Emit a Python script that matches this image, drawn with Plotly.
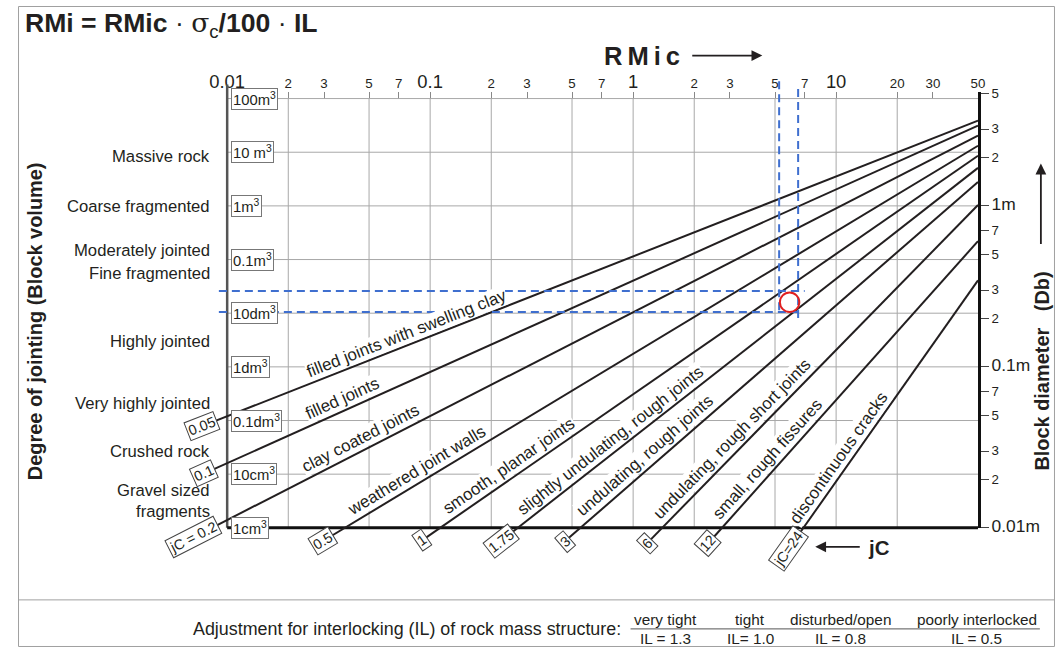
import math
import plotly.graph_objects as go

# ---------------- data ----------------
rmic_tick_vals = [0.01, 0.02, 0.03, 0.05, 0.07, 0.1, 0.2, 0.3, 0.5, 0.7, 1, 2, 3, 5, 7, 10, 20, 30, 50]
rmic_tick_text = ["0.01", "2", "3", "5", "7", "0.1", "2", "3", "5", "7", "1", "2", "3", "5", "7", "10", "20", "30", "50"]
rmic_major = ["0.01", "0.1", "1", "10"]
rmic_grid = [0.02, 0.05, 0.1, 0.2, 0.5, 1, 2, 5, 10, 20]

vb_vals = [1e-6, 1e-5, 1e-4, 1e-3, 1e-2, 1e-1, 1, 10, 100]
vb_text = ["1cm<sup>3</sup>", "10cm<sup>3</sup>", "0.1dm<sup>3</sup>", "1dm<sup>3</sup>", "10dm<sup>3</sup>",
           "0.1m<sup>3</sup>", "1m<sup>3</sup>", "10 m<sup>3</sup>", "100m<sup>3</sup>"]

db_tick_vals = [0.01, 0.02, 0.03, 0.05, 0.07, 0.1, 0.2, 0.3, 0.5, 0.7, 1, 2, 3, 5]
db_tick_text = ["0.01m", "2", "3", "5", "7", "0.1m", "2", "3", "5", "7", "1m", "2", "3", "5"]
db_major = ["0.01m", "0.1m", "1m"]

jointing_classes = ["Massive rock", "Coarse fragmented", "Moderately jointed", "Fine fragmented",
                    "Highly jointed", "Very highly jointed", "Crushed rock", "Gravel sized", "fragments"]

jc_values = [0.05, 0.1, 0.2, 0.5, 1, 1.75, 3, 6, 12, 24]
jc_box_text = ["0.05", "0.1", "jC = 0.2", "0.5", "1", "1.75", "3", "6", "12", "jC=24"]
joint_names = ["filled joints with swelling clay", "filled joints", "clay coated joints",
               "weathered joint walls", "smooth, planar joints", "slightly undulating, rough joints",
               "undulating, rough joints", "undulating, rough short joints", "small, rough fissures",
               "discontinuous cracks"]
# where each jC line enters the frame (left or bottom edge) and where it leaves (RMic = 50)
start_rmic = [0.01, 0.01, 0.01, 0.038, 0.112, 0.27, 0.55, 1.39, 2.74, 6.9]
start_vb = [1.2e-4, 1.6e-5, 1.4e-6, 1e-6, 1e-6, 1e-6, 1e-6, 1e-6, 1e-6, 1e-6]
end_rmic = [50, 50, 50, 50, 50, 50, 50, 50, 50, 50]
end_vb = [38.8, 31.3, 20.3, 13.2, 8.6, 5.1, 2.8, 1.04, 0.22, 0.041]

# worked example (blue dashed construction lines, red circle)
dash_h_vb = [0.026, 0.0105]
dash_h_rmic_from = [0.0091, 0.0091]
dash_h_rmic_to = [7.0, 6.5]
dash_v_rmic = [5.24, 6.5]
dash_v_vb_from = [210, 150]
dash_v_vb_to = [0.0105, 0.0077]
example_rmic = [5.9]
example_vb = [0.016]

il_headers = ["very tight", "tight", "disturbed/open", "poorly interlocked"]
il_values = ["IL = 1.3", "IL= 1.0", "IL = 0.8", "IL = 0.5"]

# ---------------- layout geometry ----------------
W, H = 1062, 655
# the page is photographed slightly reduced and shifted: target pixel r -> figure pixel (r - O) / S
S, OX, OY = 0.978, 16.5, 7.5
X0, X1 = 226, 978          # frame left / right (target pixels)
Y100, YB = 100, 529        # 100 m3 line / 1 cm3 line
YT = 93                    # top of the axis box
PX = (X1 - X0) / (math.log10(50) + 2)
PY = (YB - Y100) / 8.0


def lx(px):
    return -2 + (px - X0) / PX


def ly(py):
    return -6 + (YB - py) / PY


def fx(px):
    return min(max(((px - OX) / S) / W, 0.0005), 0.9995)


def fy(py):
    return min(max(1 - ((py - OY) / S) / H, 0.0008), 0.9992)


def fs(size):
    return size / S


FONT = "Liberation Sans, Arial, sans-serif"
INK = "#231f20"
GRID = "#a8a8a8"

fig = go.Figure()

# invisible anchors for the tick axes
fig.add_trace(go.Scatter(x=[0.01], y=[1e-6], mode="markers", marker=dict(opacity=0),
                         xaxis="x", yaxis="y", hoverinfo="skip", showlegend=False))
fig.add_trace(go.Scatter(x=[0.01], y=[0.01], mode="markers", marker=dict(opacity=0),
                         xaxis="x", yaxis="y2", hoverinfo="skip", showlegend=False))

# gridlines (drawn on the full-figure axes x2/y3)
gx, gy = [], []
for v in rmic_grid:
    gx += [v, v, None]
    gy += [vb_vals[0], vb_vals[-1], None]
for v in vb_vals[1:]:
    gx += [rmic_tick_vals[0], rmic_tick_vals[-1], None]
    gy += [v, v, None]
fig.add_trace(go.Scatter(x=gx, y=gy, mode="lines", line=dict(color=GRID, width=1),
                         xaxis="x2", yaxis="y3", hoverinfo="skip", showlegend=False))

# left frame line
fig.add_trace(go.Scatter(x=[rmic_tick_vals[0], rmic_tick_vals[0]], y=[vb_vals[0], 10 ** ly(86)],
                         mode="lines", line=dict(color="#555555", width=2.5),
                         xaxis="x2", yaxis="y3", hoverinfo="skip", showlegend=False))
# bottom frame line
fig.add_trace(go.Scatter(x=[rmic_tick_vals[0], rmic_tick_vals[-1]], y=[vb_vals[0], vb_vals[0]],
                         mode="lines", line=dict(color="#111111", width=3),
                         xaxis="x2", yaxis="y3", hoverinfo="skip", showlegend=False))

# jC lines
box_ext = [27, 25, 38, 26, 22, 21, 21, 21, 21, 25]
label_rmic = [0.08, 0.039, 0.048, 0.092, 0.265, 0.84, 1.25, 3.4, 5.1, 11.5]
annotations = []
for i, jc in enumerate(jc_values):
    lx0, ly0 = math.log10(start_rmic[i]), math.log10(start_vb[i])
    lx1, ly1 = math.log10(end_rmic[i]), math.log10(end_vb[i])
    a = math.atan2((ly1 - ly0) * PY, (lx1 - lx0) * PX)
    lxb = lx0 - box_ext[i] * math.cos(a) / PX
    lyb = ly0 - box_ext[i] * math.sin(a) / PY
    fig.add_trace(go.Scatter(x=[10 ** lxb, end_rmic[i]], y=[10 ** lyb, end_vb[i]], mode="lines",
                             line=dict(color=INK, width=2), xaxis="x2", yaxis="y3",
                             name="jC = %g" % jc, hoverinfo="skip", showlegend=False))
    deg = math.degrees(a)
    annotations.append(dict(x=lxb, y=lyb, xref="x2", yref="y3", text=jc_box_text[i],
                            xanchor="center", yanchor="middle",
                            showarrow=False, textangle=-deg, bgcolor="white",
                            bordercolor="#444444", borderwidth=1, borderpad=1,
                            font=dict(size=fs(14), color=INK, family=FONT)))
    lxl = math.log10(label_rmic[i])
    lyl = ly0 + (lxl - lx0) * (ly1 - ly0) / (lx1 - lx0)
    off = 11.5 / S
    annotations.append(dict(x=lxl, y=lyl, xref="x2", yref="y3", text=joint_names[i],
                            xanchor="center", yanchor="middle",
                            showarrow=False, textangle=-deg, bgcolor="white", borderpad=0,
                            xshift=-off * math.sin(a), yshift=off * math.cos(a),
                            font=dict(size=fs(16.5), color=INK, family=FONT)))

# worked example
for k in range(2):
    fig.add_trace(go.Scatter(x=[dash_h_rmic_from[k], dash_h_rmic_to[k]], y=[dash_h_vb[k], dash_h_vb[k]],
                             mode="lines", line=dict(color="#3f6fcf", width=2, dash="8px,5px"),
                             xaxis="x2", yaxis="y3", hoverinfo="skip", showlegend=False))
    fig.add_trace(go.Scatter(x=[dash_v_rmic[k], dash_v_rmic[k]], y=[dash_v_vb_from[k], dash_v_vb_to[k]],
                             mode="lines", line=dict(color="#3f6fcf", width=2, dash="8px,5px"),
                             xaxis="x2", yaxis="y3", hoverinfo="skip", showlegend=False))
fig.add_trace(go.Scatter(x=example_rmic, y=example_vb, mode="markers",
                         marker=dict(symbol="circle-open", size=fs(19), color="#e02020", line=dict(width=2)),
                         xaxis="x2", yaxis="y3", hoverinfo="skip", showlegend=False))

# boxed block-volume labels
for v, t in zip(vb_vals, vb_text):
    annotations.append(dict(x=-2, y=math.log10(v), xref="x2", yref="y3", text=t, showarrow=False,
                            xanchor="left", yanchor="middle", xshift=4, bgcolor="white",
                            bordercolor="#777777", borderwidth=1, borderpad=1,
                            font=dict(size=fs(14.5), color=INK, family=FONT)))

# jointing classes
class_y = [158, 208, 252, 275, 343, 405, 453, 492, 513]
for t, yy in zip(jointing_classes, class_y):
    annotations.append(dict(x=fx(211), y=fy(yy), xref="paper", yref="paper", text=t, showarrow=False,
                            xanchor="right", yanchor="middle",
                            font=dict(size=fs(16.3), color=INK, family=FONT)))


def ptext(x, y, text, size, xanchor="center", angle=0, family=FONT):
    return dict(x=fx(x), y=fy(y), xref="paper", yref="paper", xanchor=xanchor, yanchor="middle",
                showarrow=False, text=text, textangle=angle,
                font=dict(size=fs(size), color=INK, family=family))


def parrow(x, y, ax, ay):
    return dict(x=fx(x), y=fy(y), xref="paper", yref="paper", text="", showarrow=True,
                ax=ax / S, ay=ay / S, arrowhead=2, arrowsize=1.2, arrowwidth=1.8, arrowcolor=INK,
                standoff=0)


annotations += [
    ptext(22, 26, "<b>RMi = RMic</b> · <span style='font-family:DejaVu Serif'>σ</span><sub>c</sub>"
                  "<b>/100</b> · <b>IL</b>", 26, xanchor="left"),
    ptext(644, 57, "<b><span style='letter-spacing:5px'>RMic</span></b>", 25),
    parrow(762, 57, -70, 0),
    ptext(33, 322, "<b>Degree of jointing (Block volume)</b>", 19.5, angle=-90),
    ptext(1042, 372, "<b>Block diameter   (Db)</b>", 19.5, angle=-90),
    parrow(1041, 165, 0, 80),
    parrow(815, 548, 45, 0),
    ptext(866, 549, "<b>jC</b>", 20, xanchor="left"),
    ptext(622, 630, "Adjustment for interlocking (IL) of rock mass structure:", 17.5, xanchor="right"),
]
il_x = [665, 750, 840, 977]
for t, v, xx in zip(il_headers, il_values, il_x):
    annotations.append(ptext(xx, 621, t, 15))
    annotations.append(ptext(xx, 640, v, 15))

shapes = [
    dict(type="rect", xref="paper", yref="paper", x0=fx(7), x1=fx(1056), y0=fy(5), y1=fy(652),
         line=dict(color="#a0a0a0", width=1)),
    dict(type="line", xref="paper", yref="paper", x0=fx(7), x1=fx(1056), y0=fy(601), y1=fy(601),
         line=dict(color="#a0a0a0", width=1)),
    dict(type="line", xref="paper", yref="paper", x0=fx(630), x1=fx(1040), y0=fy(630), y1=fy(630),
         line=dict(color="#555555", width=1)),
]


def styled(texts, majors, big, small):
    return ["<span style='font-size:%.1fpx'>%s</span>" % (fs(big) if t in majors else fs(small), t)
            for t in texts]


fig.update_layout(
    width=W, height=H, margin=dict(l=0, r=0, t=0, b=0),
    paper_bgcolor="white", plot_bgcolor="rgba(0,0,0,0)",
    font=dict(family=FONT, color=INK), hovermode=False, showlegend=False,
    xaxis=dict(type="log", range=[-2, math.log10(50)], domain=[fx(X0), fx(X1)], anchor="y", side="top",
               tickmode="array", tickvals=rmic_tick_vals,
               ticktext=styled(rmic_tick_text, rmic_major, 18, 13),
               ticks="inside", ticklen=7 / S, tickcolor="#888888", showgrid=False, zeroline=False,
               showline=False, tickfont=dict(color=INK, family=FONT)),
    yaxis=dict(type="log", range=[-6, ly(YT)], domain=[fy(YB), fy(YT)], anchor="x", visible=False),
    yaxis2=dict(type="log", range=[-2, ly(YT) / 3], overlaying="y", anchor="x", side="right",
                tickmode="array", tickvals=db_tick_vals,
                ticktext=styled(db_tick_text, db_major, 17, 13),
                ticks="outside", ticklen=8 / S, tickcolor="#444444", showline=True, linecolor="#111111",
                linewidth=3, showgrid=False, zeroline=False, tickfont=dict(color=INK, family=FONT)),
    xaxis2=dict(type="log", range=[lx(OX), lx(OX + S * W)], domain=[0, 1], anchor="y3", visible=False),
    yaxis3=dict(type="log", range=[ly(OY + S * H), ly(OY)], domain=[0, 1], anchor="x2", visible=False),
    annotations=annotations, shapes=shapes,
)

fig.write_html("out.html")
